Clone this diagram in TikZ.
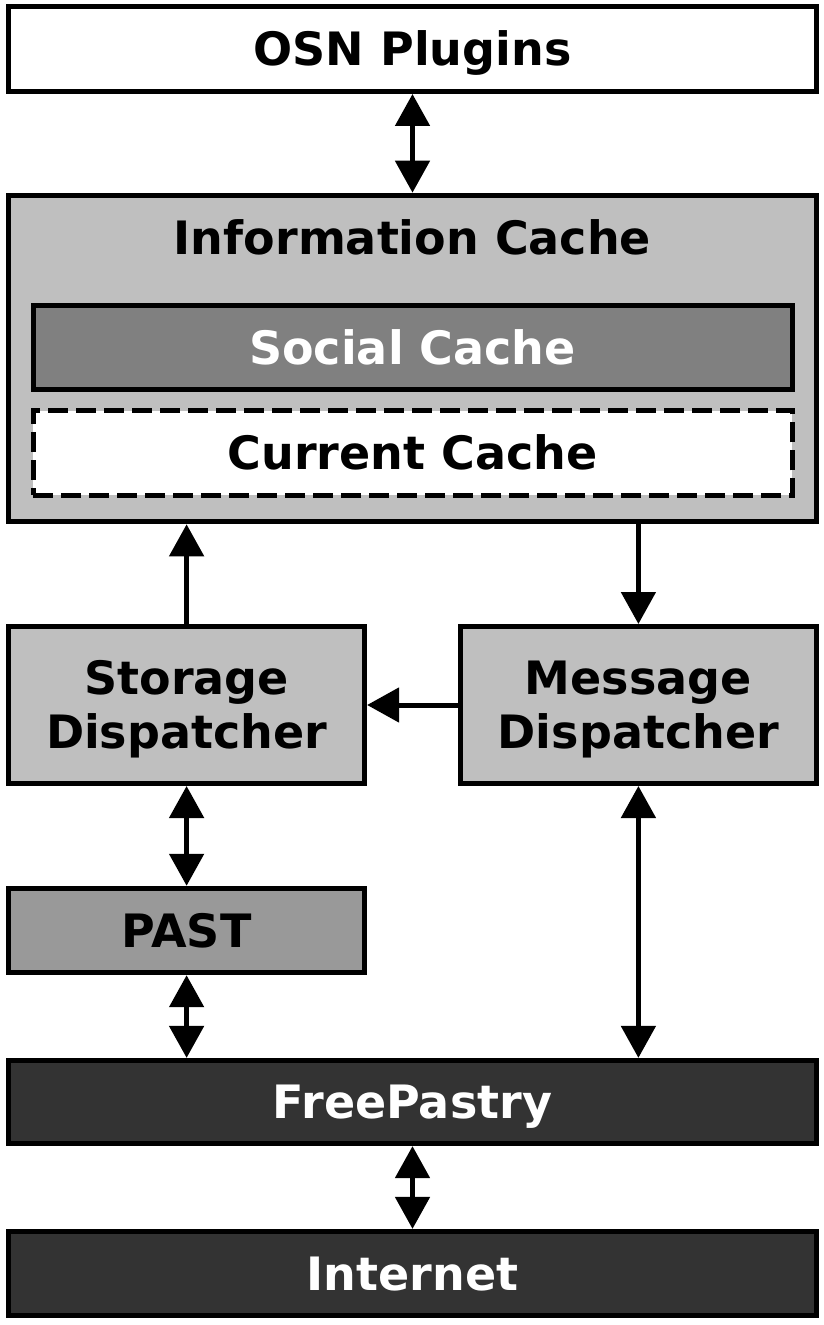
\documentclass[tikz,border=0pt]{standalone}
\usepackage{fontspec}
\setmainfont{DejaVu Sans}
\usetikzlibrary{positioning,arrows.meta,calc}

\begin{document}
\begin{tikzpicture}[
  x=0.5pt,y=-0.5pt,
  base/.style    ={draw=black,line width=2.5pt,align=center,inner sep=0pt,
                   text height=16.8pt,text depth=0pt,
                   font=\fontsize{23}{27}\selectfont\bfseries},
  twoline/.style ={text height=43.8pt,text depth=0pt},
  wide/.style    ={minimum width=404pt,minimum height=42.5pt},
  inner/.style   ={minimum width=379.5pt,minimum height=42.3pt},
  half/.style    ={minimum width=178pt},
  whitebox/.style={base,fill=white},
  lightbox/.style={base,fill=black!25},
  midbox/.style  ={base,fill=black!50,text=white},
  pastbox/.style ={base,fill=black!40},
  darkbox/.style ={base,fill=black!80,text=white},
  dashbox/.style ={base,fill=white,dash pattern=on 10pt off 4pt},
  link/.style    ={line width=2.5pt,-{Triangle[length=16pt,width=17pt]}},
  biglink/.style ={line width=2.5pt,{Triangle[length=16pt,width=17pt]}-{Triangle[length=16pt,width=17pt]}}]
\useasboundingbox (0,0) rectangle (823,1325);
% --- top layer ---
\node[whitebox,wide] (osn) at (412.5,49) {OSN Plugins};
% --- information cache with its two inner caches ---
\node[lightbox,minimum width=404pt,minimum height=163.3pt] (info) at (412.5,358.5) {};
\node[font=\fontsize{23}{27}\selectfont\bfseries,text height=16.8pt,text depth=0pt,inner sep=0pt] (infotitle) at (412.5,238) {Information Cache};
\node[midbox,inner] (social) at (412.5,347.7) {Social Cache};
\node[dashbox,inner] (current) at (412.5,453) {Current Cache};
% --- dispatchers ---
\node[lightbox,half,twoline,minimum height=78.5pt] (storage) at (186.6,705) {Storage\\Dispatcher};
\node[lightbox,half,twoline,minimum height=78.5pt] (message) at (638.4,705) {Message\\Dispatcher};
\node[pastbox,half,minimum height=42.2pt] (past) at (186.6,930.5) {PAST};
% --- network layers ---
\node[darkbox,wide,minimum height=41.6pt] (pastry) at (412.5,1102) {FreePastry};
\node[darkbox,wide,minimum height=42.2pt] (inet) at (412.5,1273.6) {Internet};
% --- connectors ---
\draw[biglink] (osn) -- (info);
\draw[link] (storage.north) -- (storage.north |- info.south);
\draw[link] (info.south -| message.north) -- (message.north);
\draw[link] (message.west) -- (storage.east);
\draw[biglink] (storage) -- (past);
\draw[biglink] (past.south) -- (past.south |- pastry.north);
\draw[biglink] (message.south) -- (message.south |- pastry.north);
\draw[biglink] (pastry) -- (inet);
\end{tikzpicture}
\end{document}
